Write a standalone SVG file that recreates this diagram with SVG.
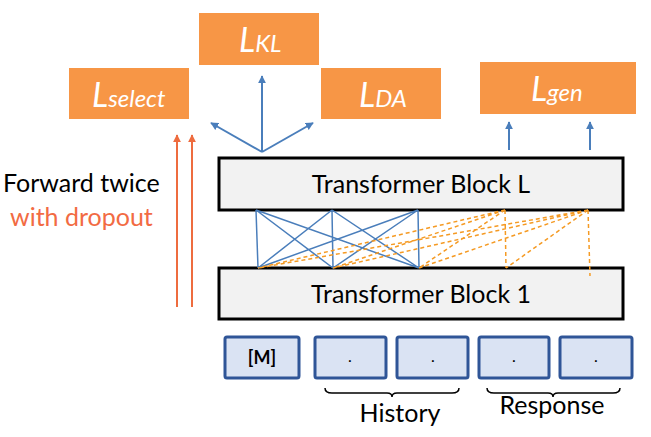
<svg xmlns="http://www.w3.org/2000/svg" width="651" height="437" viewBox="0 0 651 437">
<defs>
<marker id="ab" viewBox="0 0 10 10" refX="9" refY="5" markerWidth="4" markerHeight="4" orient="auto"><path d="M0,0 L10,5 L0,10 z" fill="#4a7ebb"/></marker>
<marker id="ao" viewBox="0 0 10 10" refX="9" refY="5" markerWidth="4" markerHeight="4" orient="auto"><path d="M0,0 L10,5 L0,10 z" fill="#ee6c3f"/></marker>
</defs>
<style>
.loss{fill:#f79646}
.lt{fill:#fff;font-family:Lato,"Open Sans",sans-serif;font-style:italic;font-size:34px}
.sub{font-size:24px}
.blk{fill:#f2f2f2;stroke:#000;stroke-width:3}
.bt{font-family:Lato,"Open Sans",sans-serif;font-size:25px;fill:#000;text-anchor:middle}
.tok{fill:#dae3f3;stroke:#2f5597;stroke-width:3}
.att{stroke:#4a7ebb;stroke-width:1.5;fill:none}
.dash{stroke:#f59a23;stroke-width:1.5;stroke-dasharray:4 3;fill:none}
.ba{stroke:#4a7ebb;stroke-width:2;fill:none;marker-end:url(#ab)}
.oa{stroke:#ee6c3f;stroke-width:2;fill:none;marker-end:url(#ao)}
.lbl{font-family:Lato,"Open Sans",sans-serif;font-size:25px}
.dot{font-family:Lato,sans-serif;font-size:16px;text-anchor:middle}
.brace{stroke:#000;stroke-width:1.5;fill:none}
</style>
<g id="loss-select"><rect class="loss" x="69" y="68" width="120" height="51"/><text class="lt" x="92" y="107">L<tspan class="sub">select</tspan></text></g>
<g id="loss-kl"><rect class="loss" x="199" y="13" width="120" height="52"/><text class="lt" x="239" y="52">L<tspan class="sub">KL</tspan></text></g>
<g id="loss-da"><rect class="loss" x="321" y="68" width="120" height="51"/><text class="lt" x="359" y="107">L<tspan class="sub">DA</tspan></text></g>
<g id="loss-gen"><rect class="loss" x="480" y="62" width="156" height="52"/><text class="lt" x="531" y="101">L<tspan class="sub">gen</tspan></text></g>
<g id="block-L"><rect class="blk" x="219" y="158" width="404" height="52"/><text class="bt" x="421" y="193">Transformer Block L</text></g>
<g id="block-1"><rect class="blk" x="219" y="268" width="404" height="51"/><text class="bt" x="421" y="303">Transformer Block 1</text></g>
<g id="tok-m"><rect class="tok" x="225" y="337" width="74" height="41" rx="2"/><text x="262" y="364" font-family="Lato,'Open Sans',sans-serif" font-size="18" font-weight="bold" text-anchor="middle">[M]</text></g>
<g id="tok-h1"><rect class="tok" x="315" y="337" width="71" height="41" rx="2"/><text class="dot" x="350" y="362">.</text></g>
<g id="tok-h2"><rect class="tok" x="397" y="337" width="71" height="41" rx="2"/><text class="dot" x="433" y="362">.</text></g>
<g id="tok-r1"><rect class="tok" x="479" y="337" width="70" height="41" rx="2"/><text class="dot" x="514" y="362">.</text></g>
<g id="tok-r2"><rect class="tok" x="560" y="337" width="72" height="41" rx="2"/><text class="dot" x="596" y="362">.</text></g>
<g id="history"><path class="brace" d="M325,388 Q325,393 332,393 L387,393 Q392,393 392,397 Q392,393 397,393 L452,393 Q459,393 459,388"/><text class="lbl" x="400" y="422" text-anchor="middle">History</text></g>
<g id="response"><path class="brace" d="M487,388 Q487,393 494,393 L548,393 Q553,393 553,397 Q553,393 558,393 L613,393 Q620,393 620,388"/><text class="lbl" x="552" y="414" text-anchor="middle">Response</text></g>
<g id="forward-label"><text class="lbl" x="3" y="192">Forward twice</text><text class="lbl" x="10" y="226" fill="#f26b43">with dropout</text></g>
<g id="connectors">
<line class="ba" x1="262" y1="152" x2="262" y2="76"/>
<line class="ba" x1="262" y1="152" x2="211" y2="123"/>
<line class="ba" x1="262" y1="152" x2="313" y2="123"/>
<line class="ba" x1="509" y1="150" x2="509" y2="122"/>
<line class="ba" x1="590" y1="150" x2="590" y2="122"/>
<line class="oa" x1="177" y1="307" x2="177" y2="135"/>
<line class="oa" x1="192" y1="307" x2="192" y2="135"/>
<path class="att" d="M256,210 L258,268 M256,210 L333,268 M256,210 L419,268 M332,210 L258,268 M332,210 L333,268 M332,210 L419,268 M418,210 L258,268 M418,210 L333,268 M418,210 L419,268"/>
<path class="dash" d="M505,210 L258,268 M505,210 L333,268 M505,210 L419,268 M505,210 L506,268 M588,210 L258,268 M588,210 L333,268 M588,210 L419,268 M588,210 L506,268 M588,210 L590,276"/>
</g>
</svg>
